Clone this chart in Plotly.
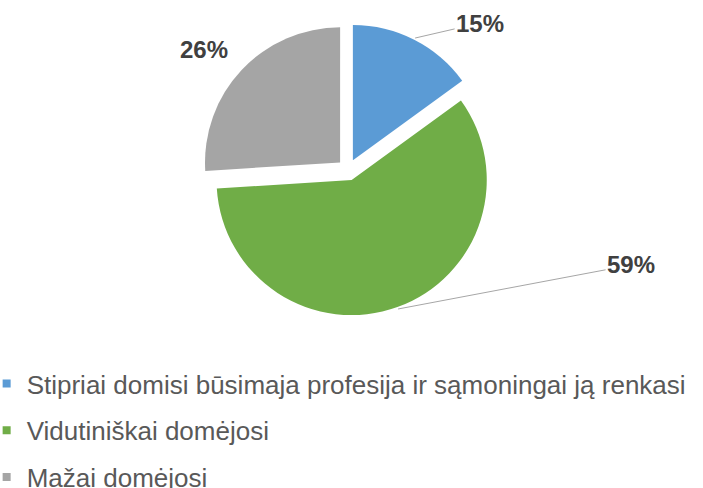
import math
import plotly.graph_objects as go

categories = [
    "Stipriai domisi būsimaja profesija ir sąmoningai ją renkasi",
    "Vidutiniškai domėjosi",
    "Mažai domėjosi",
]
values = [15, 59, 26]
colors = ["#5B9BD5", "#70AD47", "#A5A5A5"]
label_offsets = [(65, -15), (233, -44), (-36, -19)]  # text offset from slice edge (px)
show_leader = [True, True, False]

W, H = 703, 488
pull = 0.08
dom_x = [0.245, 0.745]
dom_y = [0.353, 0.951]

fig = go.Figure()
fig.add_trace(go.Pie(
    labels=categories, values=values, sort=False, direction="clockwise", rotation=0,
    marker=dict(colors=colors, line=dict(width=0)), pull=[pull] * len(values),
    textinfo="none", hoverinfo="label+percent", showlegend=False,
    domain=dict(x=dom_x, y=dom_y),
))

# pie geometry in pixels (plotly fits r*(1+pull) into the domain)
cx = (dom_x[0] + dom_x[1]) / 2 * W
cy = (1 - (dom_y[0] + dom_y[1]) / 2) * H
rad = min((dom_x[1] - dom_x[0]) * W, (dom_y[1] - dom_y[0]) * H) / 2 / (1 + pull)

total = sum(values)
cum = 0
for v, (ox, oy), lead in zip(values, label_offsets, show_leader):
    mid = (cum + v / 2) / total * 2 * math.pi
    cum += v
    rr = rad * (1 + pull) + 2
    px = cx + rr * math.sin(mid)
    py = cy - rr * math.cos(mid)
    pct = round(v / total * 100)
    fig.add_annotation(
        x=px / W, y=1 - py / H, xref="paper", yref="paper",
        text=f"<b>{pct}%</b>", showarrow=True, ax=ox, ay=oy,
        arrowhead=0, arrowwidth=1,
        arrowcolor="#A6A6A6" if lead else "rgba(0,0,0,0)",
        font=dict(size=24, color="#404040", family="Liberation Sans, Arial, sans-serif"),
    )

for i, (cat, col) in enumerate(zip(categories, colors)):
    fig.add_trace(go.Scatter(
        x=[None], y=[None], mode="markers", name=cat, legendgroup=f"g{i}",
        marker=dict(symbol="square", size=8, color=col),
    ))

fig.update_layout(
    width=W, height=H,
    margin=dict(l=0, r=0, t=0, b=0, autoexpand=False),
    paper_bgcolor="white", plot_bgcolor="white",
    xaxis=dict(visible=False), yaxis=dict(visible=False),
    showlegend=True,
    legend=dict(
        x=-0.019, y=1 - 360 / H, xanchor="left", yanchor="top",
        traceorder="grouped", tracegroupgap=10,
        font=dict(size=26, color="#595959", family="Liberation Sans, Arial, sans-serif"),
        bgcolor="rgba(0,0,0,0)", itemwidth=30,
    ),
)

fig.write_html("out.html", config={"displayModeBar": False},
               post_script="document.body.style.margin='0';")
